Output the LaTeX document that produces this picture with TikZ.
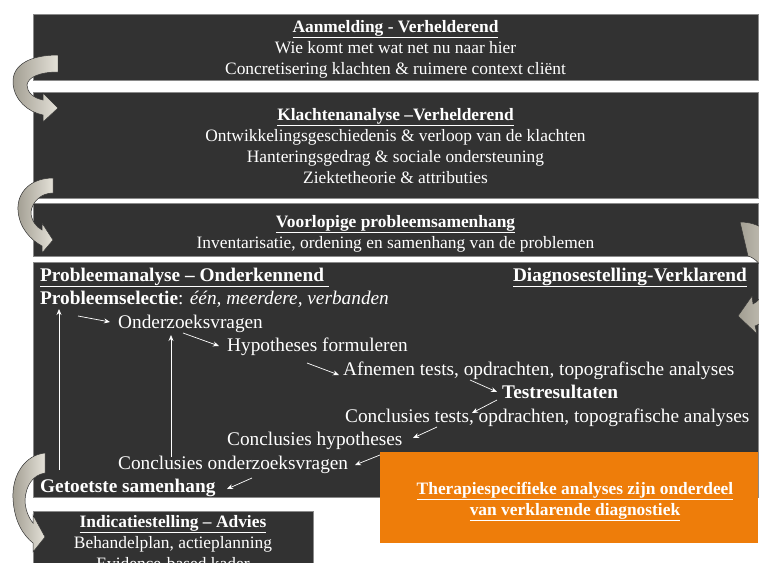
\documentclass[tikz,border=0pt]{standalone}
\usepackage{fontspec}
\setmainfont{Liberation Serif}
\usetikzlibrary{arrows.meta}
\definecolor{boxdark}{HTML}{323232}
\definecolor{boxline}{HTML}{8A8A8A}
\definecolor{orangebox}{HTML}{EE7D0A}
\definecolor{arrowdark}{HTML}{A29E92}
\definecolor{arrowlight}{HTML}{E4E1D8}
\begin{document}
\begin{tikzpicture}[x=1pt,y=-1pt,
  panel/.style={fill=boxdark, draw=boxline, line width=0.6pt},
  toptxt/.style={text=white, font=\fontsize{17.4}{21}\selectfont, anchor=base, inner sep=0pt},
  bigtxt/.style={text=white, font=\fontsize{19.3}{23.5}\selectfont, anchor=base west, inner sep=0pt},
  flow/.style={draw=white, line width=0.7pt, -{Stealth[length=6pt,width=5pt]}},
  bent/.style={left color=arrowdark, right color=arrowlight, draw=black!80, line width=0.5pt}]
\useasboundingbox (0,0) rectangle (759,562);
\fill[white] (0,0) rectangle (759,562);

% panels
\draw[panel] (33,14) rectangle (758,80);
\draw[panel] (33,92) rectangle (758,198);
\draw[panel] (33,203) rectangle (758,256);
\draw[panel] (33,262) rectangle (758,497);
\draw[panel] (33,511) rectangle (313,580);

% box 1
\node[toptxt] (t1a) at (395.5,32) {\textbf{\underline{Aanmelding - Verhelderend}}};
\node[toptxt] (t1b) at (395.5,53) {Wie komt met wat net nu naar hier};
\node[toptxt] (t1c) at (395.5,74) {Concretisering klachten \& ruimere context cliënt};
% box 2
\node[toptxt] (t2a) at (395.5,120) {\textbf{\underline{Klachtenanalyse –Verhelderend}}};
\node[toptxt] (t2b) at (395.5,141) {Ontwikkelingsgeschiedenis \& verloop van de klachten};
\node[toptxt] (t2c) at (395.5,162) {Hanteringsgedrag \& sociale ondersteuning};
\node[toptxt] (t2d) at (395.5,183) {Ziektetheorie \& attributies};
% box 3
\node[toptxt] (t3a) at (395.5,227) {\textbf{\underline{Voorlopige probleemsamenhang}}};
\node[toptxt] (t3b) at (395.5,248) {Inventarisatie, ordening en samenhang van de problemen};

% box 4
\node[bigtxt] (pa) at (40,281) {\textbf{\underline{Probleemanalyse – Onderkennend\ }}};
\node[bigtxt, anchor=base east] (dv) at (747,281) {\textbf{\underline{Diagnosestelling-Verklarend}}};
\node[bigtxt] (ps) at (40,304) {\textbf{Probleemselectie}: \textit{één, meerdere, verbanden}};
\node[bigtxt] (oz) at (118,328) {Onderzoeksvragen};
\node[bigtxt] (hf) at (227,351) {Hypotheses formuleren};
\node[bigtxt] (at) at (343,375) {Afnemen tests, opdrachten, topografische analyses};
\node[bigtxt] (tr) at (502,398) {\textbf{Testresultaten}};
\node[bigtxt] (ct) at (345,422) {Conclusies tests, opdrachten, topografische analyses};
\node[bigtxt] (ch) at (227,445) {Conclusies hypotheses};
\node[bigtxt] (co) at (118,469) {Conclusies onderzoeksvragen};
\node[bigtxt] (gs) at (40,492) {\textbf{Getoetste samenhang}};

% flow arrows
\coordinate (a1s) at (78,316);  \coordinate (a1e) at (110,322);
\coordinate (a2s) at (183,333); \coordinate (a2e) at (219,346);
\coordinate (a3s) at (307,363); \coordinate (a3e) at (339,375);
\coordinate (a4s) at (470,380); \coordinate (a4e) at (497,392);
\coordinate (a5s) at (497,400); \coordinate (a5e) at (472,413);
\coordinate (a6s) at (437,427); \coordinate (a6e) at (413,438);
\coordinate (a7s) at (380,455); \coordinate (a7e) at (355,465);
\coordinate (a8s) at (252,478); \coordinate (a8e) at (227,489);
\coordinate (v1s) at (59,470);  \coordinate (v1e) at (59,309);
\coordinate (v2s) at (171,457); \coordinate (v2e) at (171,335);
\foreach \p in {a1,a2,a3,a4,a5,a6,a7,a8,v1,v2} \draw[flow] (\p s) -- (\p e);

% orange box
\fill[orangebox] (380,452) rectangle (758,543);
\node[toptxt] (o1) at (575,494) {\textbf{\underline{Therapiespecifieke analyses zijn onderdeel}}};
\node[toptxt] (o2) at (575,515) {\textbf{\underline{van verklarende diagnostiek}}};

% box 5
\node[toptxt] (i1) at (173,527) {\textbf{\underline{Indicatiestelling – Advies}}};
\node[toptxt] (i2) at (173,548) {Behandelplan, actieplanning};
\node[toptxt] (i3) at (173,569) {Evidence-based kader};

% curved block arrows
\begin{scope}[shift={(58,55)}]
\draw[bent] (0,0) .. controls (-28,0) and (-46,10) .. (-45,28) .. controls (-44,45) and (-30,57) .. (-15,60) -- (-15,67) -- (0,53) -- (-15,38) -- (-15,45) .. controls (-25,43) and (-31,37) .. (-31,30) .. controls (-30,22) and (-18,17) .. (0,17) -- cycle;
\end{scope}
\begin{scope}[shift={(53,178)}]
\draw[bent] (0,0) .. controls (-22,0) and (-36,14) .. (-35,32) .. controls (-34,50) and (-22,62) .. (-11,68) -- (-11,75) -- (0,62) -- (-11,45) -- (-11,52) .. controls (-17,49) and (-22,42) .. (-22,34) .. controls (-21,24) and (-12,15) .. (0,15) -- cycle;
\end{scope}
\begin{scope}[shift={(45,453)}]
\draw[bent] (0,0) .. controls (-20,2) and (-33,22) .. (-32,45) .. controls (-31,68) and (-22,82) .. (-12,90) -- (-12,99) -- (0,84) -- (-12,62) -- (-12,70) .. controls (-17,64) and (-20,55) .. (-20,47) .. controls (-19,32) and (-12,22) .. (0,20) -- cycle;
\end{scope}
\draw[bent] (740,222) .. controls (775,222) and (795,260) .. (785,290) .. controls (778,310) and (765,322) .. (755,326) -- (757,334) -- (738,316) -- (752,296) -- (753,304) .. controls (762,300) and (768,285) .. (765,275) .. controls (762,265) and (755,258) .. (748,256) -- cycle;
\end{tikzpicture}
\end{document}
